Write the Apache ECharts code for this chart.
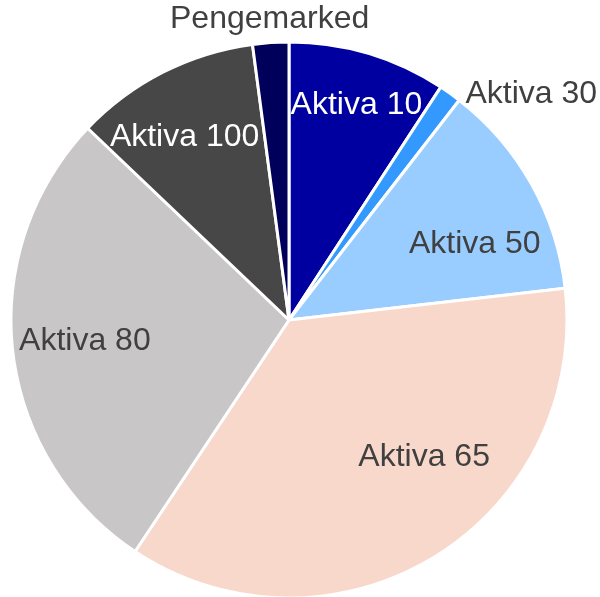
<!DOCTYPE html>
<html>
<head>
<meta charset="utf-8">
<script src="https://cdn.jsdelivr.net/npm/echarts@6/dist/echarts.min.js"></script>
<style>
  html, body { margin: 0; padding: 0; background: #fff; }
  #chart { width: 600px; height: 597px; }
</style>
</head>
<body>
<div id="chart"></div>
<script>
// andel i prosent, lest av figuren
const categories = ['Aktiva 10', 'Aktiva 30', 'Aktiva 50', 'Aktiva 65', 'Aktiva 80', 'Aktiva 100', 'Pengemarked'];
const shares = [9.2, 1.3, 12.7, 36.2, 27.8, 10.8, 2.1];

// stil per sektor
const sliceColors = ['#0000a0', '#3399ff', '#99ccff', '#f8d8ca', '#c8c6c7', '#474747', '#00005a'];
const labelColors = ['#ffffff', '#404040', '#404040', '#404040', '#404040', '#ffffff', '#404040'];
// flytting av etikettene fra midtpunktet (som i Excel-figuren)
const labelShift = [[27, -79], [160, -110], [62, -6], [61, 16], [-63, 5], [-40, -56], [-10, -159]];

const chart = echarts.init(document.getElementById('chart'), null, { renderer: 'canvas' });

const data = categories.map((name, i) => ({
  name: name,
  value: shares[i],
  itemStyle: { color: sliceColors[i] },
  label: { color: labelColors[i] }
}));

chart.setOption({
  animation: false,
  series: [{
    type: 'pie',
    center: [289, 320],
    radius: 278,
    startAngle: 90,
    clockwise: true,
    avoidLabelOverlap: false,
    itemStyle: { borderColor: '#ffffff', borderWidth: 3 },
    label: {
      show: true,
      position: 'inside',
      formatter: '{b}',
      fontSize: 32,
      fontFamily: 'Liberation Sans, Arial, sans-serif'
    },
    labelLine: { show: false },
    labelLayout: (params) => ({
      dx: labelShift[params.dataIndex][0],
      dy: labelShift[params.dataIndex][1]
    }),
    emphasis: { disabled: true },
    data: data
  }]
});
</script>
</body>
</html>
